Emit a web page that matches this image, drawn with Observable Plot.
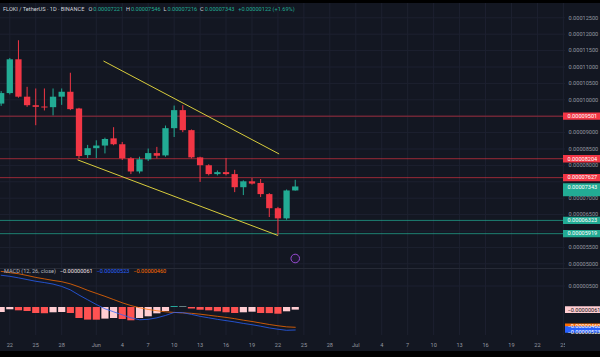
<!DOCTYPE html>
<html>
<head>
<meta charset="utf-8">
<script src="https://cdn.jsdelivr.net/npm/d3@7"></script>
<script src="https://cdn.jsdelivr.net/npm/@observablehq/plot@0.6"></script>
<style>
html,body{margin:0;padding:0;background:#000;overflow:hidden;}
#wrap{position:relative;width:600px;height:357px;background:#000;overflow:hidden;font-family:Roboto,"Liberation Sans",Arial,sans-serif;}
#price,#macd{position:absolute;left:0;}
#price{top:3px;}
#macd{top:268px;}
#sep{position:absolute;left:0;top:268px;width:600px;height:1px;background:#262a36;}
#corner{position:absolute;left:565px;top:337px;width:35px;height:14px;background:#131722;}
.leg{position:absolute;left:3px;font-size:5.6px;line-height:7px;white-space:nowrap;color:#d1d4dc;}
.leg span{margin-left:1px}
</style>
</head>
<body>
<div id="wrap">
  <div id="price"></div>
  <div id="macd"></div>
  <div id="sep"></div>
  <div id="corner"></div>
  <div class="leg" id="hdr" style="top:6px"></div>
  <div class="leg" id="mleg" style="top:268px"></div>
</div>
<script>
// ---------- DATA ----------
const symbolTitle = "FLOKI / TetherUS · 1D · BINANCE";
const dates = ["2025-05-21","2025-05-22","2025-05-23","2025-05-24","2025-05-25","2025-05-26","2025-05-27","2025-05-28","2025-05-29","2025-05-30","2025-05-31",
  "2025-06-01","2025-06-02","2025-06-03","2025-06-04","2025-06-05","2025-06-06","2025-06-07","2025-06-08","2025-06-09","2025-06-10",
  "2025-06-11","2025-06-12","2025-06-13","2025-06-14","2025-06-15","2025-06-16","2025-06-17","2025-06-18","2025-06-19","2025-06-20",
  "2025-06-21","2025-06-22","2025-06-23","2025-06-24"];
const open  = [9.87e-5,10.19e-5,11.22e-5,10.08e-5,9.82e-5,9.78e-5,9.76e-5,10.08e-5,10.23e-5,9.72e-5,8.30e-5,8.51e-5,8.59e-5,8.81e-5,8.63e-5,8.20e-5,7.80e-5,8.17e-5,8.36e-5,8.29e-5,9.12e-5,9.67e-5,9.06e-5,8.23e-5,7.99e-5,7.72e-5,7.78e-5,7.72e-5,7.32e-5,7.50e-5,7.45e-5,7.11e-5,6.68e-5,6.37e-5,7.221e-5];
const high  = [10.25e-5,11.26e-5,11.80e-5,10.38e-5,10.33e-5,10.33e-5,10.33e-5,10.33e-5,10.81e-5,9.74e-5,8.61e-5,8.75e-5,8.83e-5,9.15e-5,8.70e-5,8.24e-5,8.25e-5,8.50e-5,8.55e-5,9.20e-5,9.81e-5,9.82e-5,9.08e-5,8.25e-5,8.02e-5,7.83e-5,8.21e-5,7.85e-5,7.53e-5,7.60e-5,7.57e-5,7.14e-5,6.72e-5,7.25e-5,7.546e-5];
const low   = [9.80e-5,10.15e-5,10.05e-5,9.77e-5,9.21e-5,9.66e-5,9.51e-5,9.83e-5,9.67e-5,8.20e-5,8.21e-5,8.21e-5,8.35e-5,8.60e-5,8.15e-5,7.72e-5,7.74e-5,8.12e-5,8.20e-5,8.25e-5,8.85e-5,9.00e-5,8.20e-5,7.48e-5,7.68e-5,7.68e-5,7.68e-5,7.17e-5,7.08e-5,7.40e-5,7.02e-5,6.41e-5,5.87e-5,6.33e-5,7.216e-5];
const close = [10.19e-5,11.22e-5,10.08e-5,9.82e-5,9.77e-5,9.75e-5,10.08e-5,10.23e-5,9.70e-5,8.27e-5,8.51e-5,8.59e-5,8.79e-5,8.63e-5,8.20e-5,7.80e-5,8.17e-5,8.36e-5,8.28e-5,9.12e-5,9.67e-5,9.06e-5,8.23e-5,7.99e-5,7.72e-5,7.78e-5,7.72e-5,7.32e-5,7.50e-5,7.43e-5,7.11e-5,6.68e-5,6.37e-5,7.221e-5,7.343e-5];

// MACD (12, 26, close) values in millionths (x 1e-6)
const macdLine   = [7.5,7.25,6.9,6.5,6.1,5.8,5.45,4.9,4.1,2.9,1.8,0.7,-0.3,-1.0,-1.7,-2.4,-2.85,-2.75,-2.4,-1.85,-1.15,-1.2,-1.6,-2.05,-2.4,-2.75,-3.05,-3.35,-3.7,-4.0,-4.35,-4.75,-5.05,-5.3,-5.23];
const signalLine = [8.4,8.1,7.85,7.45,7.0,6.65,6.3,6.0,5.5,4.8,4.0,3.3,2.6,1.85,1.1,0.45,-0.05,-0.45,-0.75,-1.0,-1.15,-1.25,-1.35,-1.55,-1.8,-2.05,-2.3,-2.6,-2.95,-3.25,-3.6,-3.95,-4.25,-4.5,-4.60];
const histogram  = [-1.16,-0.53,-0.77,-0.93,-1.40,-1.45,-1.23,-1.16,-1.40,-2.56,-2.93,-2.95,-2.70,-2.56,-2.79,-3.09,-2.56,-2.16,-1.47,-0.93,0.23,0.12,-0.35,-0.63,-0.77,-1.00,-1.23,-1.40,-1.23,-1.09,-1.40,-1.42,-1.56,-1.00,-0.61];
const MICRO = 1e-6;

// horizontal levels
const resistanceLevels = [0.00009501, 0.00008204, 0.00007627];
const supportLevels    = [0.00006323, 0.00005919];

// trend lines (date, price)
const upperTrend = [["2025-06-01T20:53Z", 11.177e-5], ["2025-06-22T02:24Z", 8.354e-5]];
const lowerTrend = [["2025-05-29T21:07Z", 8.165e-5], ["2025-06-21T23:31Z", 5.866e-5]];

// axes
const priceTicks = [0.00005,0.000055,0.00006,0.000065,0.00007,0.000075,0.00008,0.000085,0.00009,0.000095,0.0001,0.000105,0.00011,0.000115,0.00012,0.000125];
const macdTicks = [0.000005];
const xTickDates = ["2025-05-22","2025-05-25","2025-05-28","2025-06-01","2025-06-04","2025-06-07","2025-06-10","2025-06-13","2025-06-16","2025-06-19","2025-06-22","2025-06-25","2025-06-28",
  "2025-07-01","2025-07-04","2025-07-07","2025-07-10","2025-07-13","2025-07-16","2025-07-19","2025-07-22","2025-07-25"];
const xTickLabels = ["22","25","28","Jun","4","7","10","13","16","19","22","25","28","Jul","4","7","10","13","16","19","22","25"];

// ---------- STYLE / LAYOUT ----------
const BG = "#131722", GRID = "#1d2130", TXT = "#9598a1";
const UP = "#22ab94", DOWN = "#f23645";
const FONT = "Roboto, 'Liberation Sans', Arial, sans-serif";
const DAY = 864e5;
const T0 = Date.UTC(2025, 4, 21);
const xDomain = [new Date(T0 - 0.075 * DAY), new Date(T0 + 65.245 * DAY)];
const xBeyond = new Date(+xDomain[1] + 6 * DAY);
const fmt8 = v => (v < 0 ? "\u2212" : "") + Math.abs(v).toFixed(8);

const candles = dates.map((d, i) => ({date: new Date(d), o: open[i], h: high[i], l: low[i], c: close[i], up: close[i] >= open[i]}));
const macdRows = dates.map((d, i) => ({date: new Date(d), m: macdLine[i] * MICRO, s: signalLine[i] * MICRO, h: histogram[i] * MICRO}));
macdRows.forEach((r, i) => {
  const prev = i ? macdRows[i - 1].h : null;
  if (r.h >= 0) r.color = (prev === null || r.h > prev) ? "#26a69a" : "#b2dfdb";
  else r.color = (prev !== null && r.h < prev) ? "#ff5252" : "#ffcdd2";
});
const xTicks = xTickDates.map(d => new Date(d));
const tickLabelMap = new Map(xTicks.map((d, i) => [+d, xTickLabels[i]]));
const trendRows = [
  ...upperTrend.map(([d, p]) => ({k: "u", date: new Date(d), p})),
  ...lowerTrend.map(([d, p]) => ({k: "l", date: new Date(d), p}))
];
const levelRows = [
  ...resistanceLevels.map(v => ({v, color: DOWN, line: "rgba(242,54,69,0.6)"})),
  ...supportLevels.map(v => ({v, color: UP, line: "rgba(34,171,148,0.7)"}))
];
const last = candles[candles.length - 1];
const prevClose = close[close.length - 2];

// axis labels that a price tag would cover are hidden (as on the trading screen)
const tagValues = [...resistanceLevels, ...supportLevels, last.c];
const visibleTicks = priceTicks.filter(t => tagValues.every(v => Math.abs(t - v) > 1.68e-6));

// ---------- PRICE PANE ----------
const price = Plot.plot({
  width: 600, height: 265,
  marginLeft: 0, marginRight: 35, marginTop: 0, marginBottom: 0,
  style: {background: BG, color: TXT, fontSize: "5.6px", fontFamily: FONT},
  x: {type: "utc", domain: xDomain, axis: null},
  y: {domain: [4.857e-5, 12.936e-5]},
  marks: [
    Plot.gridX(xTicks, {stroke: GRID, strokeOpacity: 1}),
    Plot.gridY(priceTicks, {stroke: GRID, strokeOpacity: 1}),
    Plot.ruleY(levelRows, {y: "v", stroke: "line", strokeWidth: 1}),
    Plot.line(trendRows, {x: "date", y: "p", z: "k", stroke: "#d8cc3c", strokeWidth: 1}),
    Plot.ruleX(candles, {x: "date", y1: "l", y2: "h", stroke: d => d.up ? UP : DOWN, strokeWidth: 1}),
    Plot.ruleX(candles, {x: "date", y1: "o", y2: "c", stroke: d => d.up ? UP : DOWN, strokeWidth: 6.3}),
    Plot.axisY(visibleTicks, {anchor: "right", tickSize: 0, tickPadding: 3, tickFormat: d => d.toFixed(8), color: TXT, fontSize: 5.6}),
    // level price tags on the axis
    Plot.ruleY(levelRows, {y: "v", x1: () => xDomain[1], x2: () => xBeyond, dx: -2, stroke: "color", strokeWidth: 7.4}),
    Plot.text(levelRows, {x: () => xDomain[1], y: "v", text: d => fmt8(d.v), dx: 2, textAnchor: "start", fill: "#ffffff", fontSize: 5.6}),
    // last price tag (two rows)
    Plot.ruleY([last], {y: "c", x1: () => xDomain[1], x2: () => xBeyond, dx: -2, dy: 5.5, stroke: UP, strokeWidth: 7.4}),
    Plot.ruleY([last], {y: "c", x1: () => xDomain[1], x2: () => xBeyond, dx: -2, stroke: UP, strokeWidth: 7.4}),
    Plot.text([last], {x: () => xDomain[1], y: "c", text: d => fmt8(d.c), dx: 2, textAnchor: "start", fill: "#ffffff", fontSize: 5.6}),
    // event marker
    Plot.dot([last], {x: "date", frameAnchor: "bottom", dy: -10, r: 4.3, fill: "#1c1830", stroke: "#9b4dd6", strokeWidth: 1})
  ]
});
document.getElementById("price").appendChild(price);

// ---------- MACD PANE ----------
const lastM = macdRows[macdRows.length - 1];
const macdTags = [
  {v: lastM.h, bg: "#ffcdd2", fg: "#131722", dy: 0},
  {v: lastM.s, bg: "#ff6d00", fg: "#ffffff", dy: -1.5},
  {v: lastM.m, bg: "#2962ff", fg: "#ffffff", dy: 2.5}
];
const macd = Plot.plot({
  width: 600, height: 83,
  marginLeft: 0, marginRight: 35, marginTop: 0, marginBottom: 16,
  style: {background: BG, color: TXT, fontSize: "5.6px", fontFamily: FONT},
  x: {type: "utc", domain: xDomain},
  y: {domain: [-6.51e-6, 9.07e-6]},
  marks: [
    Plot.gridX(xTicks, {stroke: GRID, strokeOpacity: 1}),
    Plot.gridY(macdTicks, {stroke: GRID, strokeOpacity: 1}),
    Plot.ruleX(macdRows, {x: "date", y1: 0, y2: "h", stroke: "color", strokeWidth: 7.2}),
    Plot.line(macdRows, {x: "date", y: "s", stroke: "#ff6d00", strokeWidth: 0.9, strokeOpacity: 0.85}),
    Plot.line(macdRows, {x: "date", y: "m", stroke: "#2962ff", strokeWidth: 0.9, strokeOpacity: 0.85}),
    Plot.axisY(macdTicks, {anchor: "right", tickSize: 0, tickPadding: 3, tickFormat: d => d.toFixed(8), color: TXT, fontSize: 5.6}),
    Plot.ruleY(macdTags, {y: "v", dy: "dy", x1: () => xDomain[1], x2: () => xBeyond, dx: -2, stroke: "bg", strokeWidth: 6.6}),
    ...macdTags.map(t => Plot.text([t], {x: () => xDomain[1], y: "v", dy: t.dy, text: d => fmt8(d.v), dx: 2, textAnchor: "start", fill: t.fg, fontSize: 5.6})),
    Plot.axisX(xTicks, {anchor: "bottom", tickSize: 0, tickPadding: 8, tickFormat: d => tickLabelMap.get(+d), color: TXT, fontSize: 5.6})
  ]
});
document.getElementById("macd").appendChild(macd);

// ---------- LEGENDS ----------
const g = s => `<span style="color:#22ab94">${s}</span>`;
const chg = last.c - prevClose;
document.getElementById("hdr").innerHTML =
  `${symbolTitle}&nbsp;&nbsp; O${g(fmt8(last.o))}&nbsp; H${g(fmt8(last.h))}&nbsp; L${g(fmt8(last.l))}&nbsp; C${g(fmt8(last.c))}&nbsp; ` +
  g(`+${chg.toFixed(8)} (+${(chg / prevClose * 100).toFixed(2)}%)`);
document.getElementById("mleg").innerHTML =
  `<span style="color:#b2b5be">MACD (12, 26, close)</span>&nbsp; <span style="color:#f0e0e3">${fmt8(lastM.h)}</span>&nbsp; ` +
  `<span style="color:#2962ff">${fmt8(lastM.m)}</span>&nbsp; <span style="color:#ff6d00">${fmt8(lastM.s)}</span>`;
</script>
</body>
</html>
